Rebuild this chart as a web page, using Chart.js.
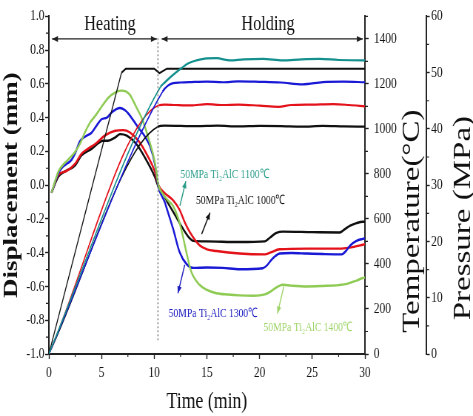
<!doctype html>
<html lang="en">
<head>
<meta charset="UTF-8" />
<title>Displacement, temperature and pressure during hot pressing</title>
<style>
  html, body { margin: 0; padding: 0; background: #fff; overflow: hidden; }
  /* the source figure is squeezed sideways, so draw wide and squeeze */
  #wrap { width: 639px; height: 416px; transform: scaleX(0.7402); transform-origin: 0 0; }
</style>
</head>
<body>
<div id="wrap"><canvas id="chart" width="639" height="416"></canvas></div>

<script src="https://cdn.jsdelivr.net/npm/chart.js@4.4.1/dist/chart.umd.min.js"></script>
<script>
// displacement (mm) against time (min)
const greenTime = [0.25, 0.9, 1.2, 1.8, 2.4, 3.0, 3.4, 3.9, 4.4, 4.85, 5.6, 6.4, 6.9, 7.3, 7.7, 8.0, 8.4, 8.8, 9.4, 10.05, 10.4, 10.8, 11.3, 11.8, 12.3, 12.6, 13.1, 13.5, 14.3, 15.0, 15.9, 17.0, 18.1, 19.4, 20.5, 21.0, 21.5, 22.2, 23.0, 24.5, 26.0, 27.5, 28.3, 29.2, 29.8, 30];
const greenDisp = [-0.045, 0.08, 0.11, 0.15, 0.19, 0.25, 0.31, 0.37, 0.41, 0.45, 0.515, 0.553, 0.56, 0.555, 0.535, 0.5, 0.45, 0.4, 0.29, 0.14, 0.0, -0.05, -0.09, -0.125, -0.2, -0.27, -0.41, -0.51, -0.59, -0.62, -0.64, -0.648, -0.653, -0.655, -0.647, -0.632, -0.61, -0.59, -0.595, -0.6, -0.597, -0.592, -0.585, -0.565, -0.55, -0.547];

const blueTime = [0.25, 0.9, 1.35, 2.15, 2.5, 2.95, 3.5, 4.05, 4.5, 5.0, 5.5, 5.95, 6.4, 6.75, 7.2, 7.6, 8.0, 8.5, 9.1, 9.6, 10.05, 10.4, 11.0, 11.2, 11.8, 12.4, 13.1, 13.7, 15.0, 16.5, 18.1, 20.3, 20.7, 21.1, 21.5, 21.9, 23.0, 24.5, 26.0, 27.8, 28.2, 28.6, 29.2, 29.8, 30];
const blueDisp = [-0.045, 0.07, 0.11, 0.15, 0.19, 0.26, 0.29, 0.31, 0.35, 0.39, 0.40, 0.43, 0.45, 0.457, 0.445, 0.42, 0.385, 0.34, 0.29, 0.23, 0.13, -0.01, -0.1, -0.14, -0.26, -0.395, -0.47, -0.49, -0.488, -0.49, -0.498, -0.492, -0.475, -0.444, -0.42, -0.405, -0.402, -0.405, -0.408, -0.41, -0.39, -0.357, -0.33, -0.318, -0.315];

const redTime = [0.25, 0.9, 1.7, 2.5, 3.1, 3.7, 4.4, 5.3, 6.3, 7.05, 7.7, 8.6, 9.4, 10.0, 10.4, 11.0, 11.8, 12.4, 12.9, 13.4, 14.3, 15.0, 15.9, 18.1, 20.5, 21.0, 21.9, 24.5, 27.6, 28.5, 29.8, 30];
const redDisp = [-0.045, 0.06, 0.085, 0.128, 0.186, 0.215, 0.244, 0.293, 0.322, 0.326, 0.312, 0.255, 0.17, 0.09, 0.0, -0.047, -0.09, -0.145, -0.22, -0.28, -0.356, -0.38, -0.39, -0.405, -0.41, -0.4, -0.38, -0.376, -0.376, -0.37, -0.353, -0.35];

const blackTime = [0.25, 0.9, 1.5, 2.5, 3.1, 4.05, 5.15, 5.6, 6.3, 6.75, 7.4, 8.3, 9.1, 10.05, 10.4, 10.7, 11.3, 12.0, 12.75, 13.3, 13.7, 15.0, 18.1, 20.5, 21.0, 21.6, 22.2, 25.0, 27.6, 28.1, 28.6, 29.2, 29.8, 30];
const blackDisp = [-0.045, 0.05, 0.08, 0.118, 0.176, 0.215, 0.263, 0.263, 0.283, 0.302, 0.293, 0.244, 0.165, 0.05, -0.01, -0.035, -0.105, -0.18, -0.26, -0.31, -0.33, -0.333, -0.337, -0.333, -0.31, -0.283, -0.275, -0.278, -0.28, -0.26, -0.24, -0.225, -0.217, -0.217];

// temperature (°C) against time (min)
const tealTempTime = [0, 10.6, 11.0, 11.5, 12.0, 12.6, 13.2, 14.0, 14.8, 15.9, 17.2, 18.5, 20.3, 22.2, 24.0, 25.7, 27.5, 29.8, 30];
const tealTemp = [0, 1187, 1206, 1228, 1248, 1270, 1290, 1304, 1312, 1314, 1304, 1309, 1311, 1304, 1309, 1311, 1306, 1304, 1304];

const blueTempTime = [0, 10.8, 11.3, 11.8, 12.5, 13.5, 15.0, 16.5, 18.0, 20.0, 22.0, 24.1, 26.0, 28.0, 30];
const blueTemp = [0, 1166, 1192, 1203, 1206, 1208, 1210, 1207, 1211, 1209, 1206, 1198, 1208, 1210, 1207];

const redTempTime = [0, 10.45, 11.0, 12.0, 13.5, 15.0, 16.5, 18.0, 20.0, 21.8, 23.0, 25.0, 27.0, 28.5, 30];
const redTemp = [0, 1105, 1108, 1106, 1104, 1110, 1106, 1108, 1103, 1098, 1106, 1108, 1110, 1106, 1100];

const blackTempTime = [0, 10.3, 11.0, 12.5, 14.0, 16.0, 18.0, 20.0, 22.0, 24.0, 26.0, 28.0, 30];
const blackTemp = [0, 1008, 1014, 1013, 1012, 1014, 1011, 1013, 1012, 1010, 1013, 1011, 1010];

// pressure (MPa) against time (min)
const pressTime = [0, 6.9, 7.3, 10.0, 10.5, 11.2, 30];
const pressVal = [0, 50.0, 50.7, 50.7, 49.9, 50.7, 50.7];

const serif = '"Liberation Serif", "Times New Roman", serif';
const ink = '#111';

function pts(xs, ys) {
    return xs.map((t, i) => ({ x: t, y: ys[i] }));
}

function dispSet(xs, ys, color) {
    return {
        data: pts(xs, ys),
        yAxisID: 'y',
        borderColor: color,
        borderWidth: 2.4,
        pointRadius: 0,
        cubicInterpolationMode: 'monotone',
    };
}

function tempSet(xs, ys, color) {
    return {
        data: pts(xs, ys),
        yAxisID: 'temp',
        borderColor: color,
        borderWidth: 2.2,
        pointRadius: 0,
        cubicInterpolationMode: 'monotone',
        // the heating ramp is printed thinner than the holding part
        segment: { borderWidth: (ctx) => (ctx.p0DataIndex === 0 ? 1.6 : 2.2) },
    };
}

function arrowHead(ctx, x0, y0, x1, y1, len, half) {
    const a = Math.atan2(y1 - y0, x1 - x0);
    const c = Math.cos(a), s = Math.sin(a);
    ctx.beginPath();
    ctx.moveTo(x1, y1);
    ctx.lineTo(x1 - len * c + half * s, y1 - len * s - half * c);
    ctx.lineTo(x1 - len * c - half * s, y1 - len * s + half * c);
    ctx.closePath();
    ctx.fill();
}

// labels and pointers inside the plot, in data units (time, displacement)
const notes = [
    { text: '50MPa Ti\u2082AlC 1100\u2103', color: '#2a9d8a', at: [16.7, 0.064], from: [12.44, -0.122], to: [13.0, 0.023] },
    { text: '50MPa Ti\u2082AlC 1000\u2103', color: '#111111', at: [18.2, -0.093], from: [14.5, -0.29], to: [15.3, -0.163] },
    { text: '50MPa Ti\u2082AlC 1300\u2103', color: '#2020c0', at: [15.6, -0.762], from: [12.9, -0.471], to: [12.25, -0.64] },
    { text: '50MPa Ti\u2082AlC 1400\u2103', color: '#9fd46a', at: [24.6, -0.843], from: [22.3, -0.6], to: [21.7, -0.76] },
];

const extras = {
    id: 'extras',
    afterDraw(chart) {
        const ctx = chart.ctx;
        const { x, y, temp, press } = chart.scales;
        ctx.save();

        // minor ticks
        ctx.strokeStyle = '#222';
        ctx.lineWidth = 1.2;
        ctx.beginPath();
        for (let v = -0.9; v < 1; v += 0.2) {
            const py = y.getPixelForValue(v);
            ctx.moveTo(y.right - 4, py);
            ctx.lineTo(y.right, py);
        }
        for (let v = 2.5; v < 30; v += 5) {
            const px = x.getPixelForValue(v);
            ctx.moveTo(px, x.top);
            ctx.lineTo(px, x.top + 3);
        }
        for (let v = 100; v <= 1500; v += 200) {
            const py = temp.getPixelForValue(v);
            ctx.moveTo(temp.left, py);
            ctx.lineTo(temp.left + 4, py);
        }
        for (let v = 5; v < 60; v += 10) {
            const py = press.getPixelForValue(v);
            ctx.moveTo(press.left, py);
            ctx.lineTo(press.left + 4, py);
        }
        ctx.stroke();

        // heating / holding split
        const xs = x.getPixelForValue(10.35);
        ctx.setLineDash([2, 2]);
        ctx.lineWidth = 1;
        ctx.strokeStyle = '#444';
        ctx.beginPath();
        ctx.moveTo(xs, y.getPixelForValue(0.87));
        ctx.lineTo(xs, y.getPixelForValue(-0.92));
        ctx.stroke();
        ctx.setLineDash([]);

        const ya = y.getPixelForValue(0.866);
        const spans = [[0.3, 10.25], [10.7, 29.8]];
        ctx.strokeStyle = '#222';
        ctx.fillStyle = '#222';
        ctx.lineWidth = 1.2;
        spans.forEach(([a, b]) => {
            const xa = x.getPixelForValue(a), xb = x.getPixelForValue(b);
            ctx.beginPath();
            ctx.moveTo(xa, ya);
            ctx.lineTo(xb, ya);
            ctx.stroke();
            arrowHead(ctx, xb, ya, xa, ya, 8, 3);
            arrowHead(ctx, xa, ya, xb, ya, 8, 3);
        });

        ctx.font = `22px ${serif}`;
        ctx.fillStyle = ink;
        ctx.textAlign = 'center';
        ctx.textBaseline = 'middle';
        ctx.fillText('Heating', x.getPixelForValue(5.8), y.getPixelForValue(0.955));
        ctx.fillText('Holding', x.getPixelForValue(20.8), y.getPixelForValue(0.955));

        // sample labels with pointers
        ctx.font = `13px ${serif}`;
        notes.forEach((n) => {
            const x0 = x.getPixelForValue(n.from[0]), y0 = y.getPixelForValue(n.from[1]);
            const x1 = x.getPixelForValue(n.to[0]), y1 = y.getPixelForValue(n.to[1]);
            ctx.strokeStyle = n.color;
            ctx.fillStyle = n.color;
            ctx.lineWidth = 1.4;
            ctx.beginPath();
            ctx.moveTo(x0, y0);
            ctx.lineTo(x1, y1);
            ctx.stroke();
            arrowHead(ctx, x0, y0, x1, y1, 7, 3);
            ctx.fillText(n.text, x.getPixelForValue(n.at[0]), y.getPixelForValue(n.at[1]));
        });

        // right-hand titles read bottom to top
        ctx.font = `33px ${serif}`;
        ctx.fillStyle = ink;
        const mid = (y.top + y.bottom) / 2;
        ctx.save();
        ctx.translate(temp.right - 18, mid + 36);
        ctx.rotate(-Math.PI / 2);
        ctx.fillText('Temperature(\u00B0C)', 0, 0);
        ctx.restore();
        ctx.save();
        ctx.translate(press.right - 13, mid + 33);
        ctx.rotate(-Math.PI / 2);
        ctx.fillText('Pressure (MPa)', 0, 0);
        ctx.restore();

        ctx.restore();
    },
};

const tickFont = { family: serif, size: 15.5 };
const axisGrid = { drawOnChartArea: false, tickLength: 5, color: '#222', tickWidth: 1.4 };
const axisBorder = { display: true, color: '#222', width: 2 };
const plain = (v) => String(v);

new Chart(document.getElementById('chart'), {
    type: 'line',
    data: {
        datasets: [
            tempSet(tealTempTime, tealTemp, '#14908e'),
            tempSet(blueTempTime, blueTemp, '#1a1ad6'),
            tempSet(redTempTime, redTemp, '#e3121b'),
            tempSet(blackTempTime, blackTemp, '#111111'),
            {
                data: pts(pressTime, pressVal),
                yAxisID: 'press',
                borderColor: '#111111',
                borderWidth: 2,
                pointRadius: 0,
                tension: 0,
                segment: { borderWidth: (ctx) => (ctx.p0DataIndex === 0 ? 1.3 : 2) },
            },
            dispSet(greenTime, greenDisp, '#8fcb55'),
            dispSet(blueTime, blueDisp, '#1a1ad6'),
            dispSet(redTime, redDisp, '#e3121b'),
            dispSet(blackTime, blackDisp, '#111111'),
        ],
    },
    options: {
        responsive: false,
        animation: false,
        devicePixelRatio: 1,
        layout: { padding: { top: 10, left: 0, right: 0, bottom: 0 } },
        plugins: { legend: { display: false }, tooltip: { enabled: false } },
        scales: {
            x: {
                type: 'linear',
                min: 0,
                max: 30,
                grid: axisGrid,
                border: axisBorder,
                ticks: { stepSize: 5, font: tickFont, color: ink, padding: 5, maxRotation: 0, callback: plain },
                title: { display: true, text: 'Time (min)', font: { family: serif, size: 24 }, color: ink, padding: { top: 0, bottom: 0 } },
                afterFit: (s) => { s.height = 62; },
            },
            y: {
                position: 'left',
                min: -1,
                max: 1,
                grid: axisGrid,
                border: axisBorder,
                ticks: { stepSize: 0.2, font: tickFont, color: ink, padding: 1, callback: (v) => v.toFixed(1) },
                title: { display: true, text: 'Displacement (mm)', font: { family: serif, size: 27, weight: 'bold' }, color: ink, padding: { top: 0, bottom: 0 } },
                afterFit: (s) => { s.width = 66; },
            },
            temp: {
                position: 'right',
                weight: 0,
                min: 0,
                max: 1500,
                grid: axisGrid,
                border: axisBorder,
                ticks: { stepSize: 200, includeBounds: false, font: tickFont, color: ink, padding: 7, callback: plain },
                afterBuildTicks: (s) => { s.ticks = s.ticks.filter((t) => t.value <= 1400); },
                afterFit: (s) => { s.width = 82.5; },
            },
            press: {
                position: 'right',
                weight: 1,
                min: 0,
                max: 60,
                grid: axisGrid,
                border: axisBorder,
                ticks: { stepSize: 10, font: tickFont, color: ink, padding: 2, callback: plain },
                afterFit: (s) => { s.width = 63.5; },
            },
        },
    },
    plugins: [extras],
});
</script>
</body>
</html>
